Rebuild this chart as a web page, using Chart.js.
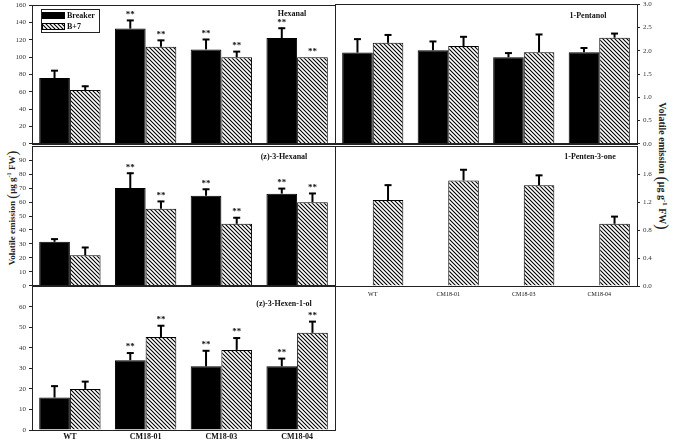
<!DOCTYPE html>
<html><head><meta charset="utf-8">
<script src="https://cdn.jsdelivr.net/npm/chart.js@4.4.0/dist/chart.umd.min.js"></script>
<style>
html,body{margin:0;padding:0;background:#fff;}
#wrap{position:relative;width:675px;height:441px;overflow:hidden;background:#fff;}
canvas{position:absolute;}
.yt{position:absolute;font-family:"Liberation Serif",serif;font-weight:bold;color:#222;white-space:nowrap;}
.yt sup{font-size:70%;}
.yt .p{font-size:160%;font-weight:normal;vertical-align:-2px;}
</style></head>
<body><div id="wrap">
<div class="yt" id="ytl" style="font-size:9px;left:12px;top:208px;transform:translate(-50%,-50%) rotate(-90deg);">Volatile emission <span class="p">(</span>μg g<sup>-1</sup> FW<span class="p">)</span></div>
<div class="yt" id="ytr" style="font-size:10px;left:662px;top:166px;transform:translate(-50%,-50%) rotate(90deg);">Volatile emission <span class="p">(</span>μg g<sup>-1</sup> FW<span class="p">)</span></div>
</div>
<script>
// ---------- data ----------
const categories = ['WT', 'CM18-01', 'CM18-03', 'CM18-04'];
const seriesNames = ['Breaker', 'B+7'];

const hexanalBreaker   = [76, 133, 109, 122];
const hexanalBreakerSD = [9, 10, 12, 12];
const hexanalB7        = [62, 112, 100, 100];
const hexanalB7SD      = [5, 8, 7, 0];
const hexanalStars     = [false, true, true, true];
const hexanalTicks     = [0, 20, 40, 60, 80, 100, 120, 140, 160];

const pentanolBreaker   = [1.96, 2.01, 1.86, 1.97];
const pentanolBreakerSD = [0.30, 0.20, 0.10, 0.10];
const pentanolB7        = [2.17, 2.10, 1.97, 2.28];
const pentanolB7SD      = [0.18, 0.21, 0.39, 0.10];
const pentanolStars     = [false, false, false, false];
const pentanolTicks     = [0, 0.5, 1.0, 1.5, 2.0, 2.5, 3.0];

const hexenalBreaker   = [31.5, 70, 64.5, 66];
const hexenalBreakerSD = [2.3, 11, 5, 4];
const hexenalB7        = [21.8, 55.2, 44.4, 59.9];
const hexenalB7SD      = [6, 5.6, 4.7, 6.6];
const hexenalStars     = [false, true, true, true];
const hexenalTicks     = [0, 10, 20, 30, 40, 50, 60, 70, 80, 90];

const pentenoneBreaker   = [null, null, null, null];
const pentenoneBreakerSD = [null, null, null, null];
const pentenoneB7        = [1.23, 1.51, 1.44, 0.89];
const pentenoneB7SD      = [0.22, 0.16, 0.15, 0.11];
const pentenoneStars     = [false, false, false, false];
const pentenoneTicks     = [0, 0.4, 0.8, 1.2, 1.6];

const hexenolBreaker   = [15.8, 34, 31, 31];
const hexenolBreakerSD = [5.8, 3.7, 7.8, 4];
const hexenolB7        = [20, 45.3, 39, 47.3];
const hexenolB7SD      = [3.8, 5.7, 6, 5.7];
const hexenolStars     = [false, true, true, true];
const hexenolTicks     = [0, 10, 20, 30, 40, 50, 60];

// ---------- helpers ----------
const SERIF = '"Liberation Serif", "Times New Roman", serif';
function makeHatch() {
  const c = document.createElement('canvas');
  c.width = 4; c.height = 4;
  const g = c.getContext('2d');
  g.fillStyle = '#fff'; g.fillRect(0, 0, 4, 4);
  g.strokeStyle = '#000'; g.lineWidth = 1.1;
  g.beginPath();
  g.moveTo(-1, -1); g.lineTo(5, 5);
  g.moveTo(-1, 3); g.lineTo(1, 5);
  g.moveTo(3, -1); g.lineTo(5, 1);
  g.stroke();
  return g.createPattern(c, 'repeat');
}
const hatch = makeHatch();

const framePlugin = {
  id: 'frame',
  afterDraw(chart) {
    const a = chart.chartArea, ctx = chart.ctx;
    ctx.save(); ctx.strokeStyle = '#222'; ctx.lineWidth = 1;
    ctx.strokeRect(Math.round(a.left) + 0.5, Math.round(a.top) + 0.5, Math.round(a.right - a.left), Math.round(a.bottom - a.top));
    ctx.restore();
  }
};

const errPlugin = {
  id: 'errbars',
  afterDatasetsDraw(chart, args, opts) {
    const ctx = chart.ctx, ys = chart.scales.y;
    ctx.save();
    chart.data.datasets.forEach((ds, i) => {
      const meta = chart.getDatasetMeta(i);
      meta.data.forEach((el, j) => {
        const v = ds.data[j];
        if (v === null || v === undefined) return;
        const sd = ds.sd[j] || 0;
        const yTop = ys.getPixelForValue(v + sd);
        const x = el.x;
        if (sd > 0) {
          ctx.strokeStyle = '#000'; ctx.lineWidth = 2;
          ctx.beginPath(); ctx.moveTo(x, el.y); ctx.lineTo(x, yTop); ctx.stroke();
          ctx.beginPath(); ctx.moveTo(x - 3.5, yTop + 0.5); ctx.lineTo(x + 3.5, yTop + 0.5); ctx.stroke();
        }
        if (ds.stars && ds.stars[j]) {
          ctx.fillStyle = '#111'; ctx.font = 'bold 9px ' + SERIF;
          ctx.textAlign = 'center'; ctx.textBaseline = 'bottom';
          ctx.fillText('**', x, yTop - 1);
        }
      });
    });
    ctx.restore();
  }
};

const titlePlugin = {
  id: 'ptitle',
  afterDraw(chart, args, opts) {
    if (!opts || !opts.text) return;
    const a = chart.chartArea, ctx = chart.ctx;
    ctx.save(); ctx.fillStyle = '#111'; ctx.font = 'bold 8px ' + SERIF;
    ctx.textAlign = 'center'; ctx.textBaseline = 'middle';
    ctx.fillText(opts.text, a.right - opts.dx, a.top + opts.dy);
    ctx.restore();
  }
};

const legendPlugin = {
  id: 'boxlegend',
  afterDraw(chart, args, opts) {
    if (!opts || !opts.show) return;
    const a = chart.chartArea, ctx = chart.ctx;
    const x0 = Math.round(a.left) + 9, y0 = Math.round(a.top) + 4;
    ctx.save();
    ctx.strokeStyle = '#222'; ctx.lineWidth = 1;
    ctx.strokeRect(x0 + 0.5, y0 + 0.5, 58, 23);
    chart.data.datasets.forEach((ds, i) => {
      const sy = y0 + 3 + i * 11;
      ctx.fillStyle = ds.backgroundColor;
      ctx.fillRect(x0 + 1, sy, 23, 7);
      ctx.strokeStyle = '#000';
      ctx.strokeRect(x0 + 1.5, sy + 0.5, 22, 6);
      ctx.fillStyle = '#111'; ctx.font = 'bold 8px ' + SERIF;
      ctx.textAlign = 'left'; ctx.textBaseline = 'middle';
      ctx.fillText(ds.label, x0 + 26, sy + 3.5);
    });
    ctx.restore();
  }
};

function fmt(dec) { return v => dec ? Number(v).toFixed(dec) : String(v); }

function makePanel(cfg) {
  const cv = document.createElement('canvas');
  cv.width = cfg.w; cv.height = cfg.h;
  cv.style.left = cfg.left + 'px'; cv.style.top = cfg.top + 'px';
  cv.style.width = cfg.w + 'px'; cv.style.height = cfg.h + 'px';
  document.getElementById('wrap').appendChild(cv);
  new Chart(cv, {
    type: 'bar',
    data: {
      labels: categories,
      datasets: [
        { label: seriesNames[0], data: cfg.d1, sd: cfg.s1, stars: cfg.stars, backgroundColor: '#000', borderColor: '#000', borderWidth: 1 },
        { label: seriesNames[1], data: cfg.d2, sd: cfg.s2, stars: cfg.stars, backgroundColor: hatch, borderColor: '#000', borderWidth: 1 }
      ]
    },
    options: {
      responsive: false, animation: false, devicePixelRatio: 1,
      layout: { padding: cfg.pad },
      datasets: { bar: { categoryPercentage: 0.81, barPercentage: 1.0 } },
      plugins: {
        legend: { display: false }, tooltip: { enabled: false },
        ptitle: cfg.title, boxlegend: { show: !!cfg.legend }
      },
      scales: {
        x: {
          offset: true,
          grid: { display: false, drawTicks: false, tickLength: 0 },
          border: { display: true, color: '#222' },
          ticks: { display: !!cfg.xLabels, font: cfg.xFont, color: '#111', padding: cfg.xPad || 2, maxRotation: 0 },
          afterFit: s => { s.height = cfg.xh; }
        },
        y: {
          position: cfg.right ? 'right' : 'left',
          min: 0, max: cfg.max,
          afterBuildTicks: s => { s.ticks = cfg.ticks.map(v => ({ value: v })); },
          ticks: { callback: fmt(cfg.dec), font: { family: SERIF, size: 7 }, color: '#333', padding: 3 },
          grid: { display: true, drawOnChartArea: false, drawTicks: true, tickLength: 3, color: '#222' },
          border: { display: true, color: '#222' },
          afterFit: s => { s.width = cfg.yw; }
        }
      }
    },
    plugins: [framePlugin, errPlugin, titlePlugin, legendPlugin]
  });
}

// Hexanal (top-left)
makePanel({ left: 0, top: -2, w: 337, h: 153, yw: 32, xh: 0, pad: { top: 6, bottom: 6, left: 0, right: 2 },
  d1: hexanalBreaker, s1: hexanalBreakerSD, d2: hexanalB7, s2: hexanalB7SD, stars: hexanalStars,
  max: 160, ticks: hexanalTicks, dec: 0, title: { text: 'Hexanal', dx: 43, dy: 9 }, legend: true });
// 1-Pentanol (top-right)
makePanel({ left: 333, top: -3, w: 342, h: 154, yw: 38, xh: 0, pad: { top: 6, bottom: 6, left: 2, right: 0 },
  d1: pentanolBreaker, s1: pentanolBreakerSD, d2: pentanolB7, s2: pentanolB7SD, stars: pentanolStars,
  max: 3.0, ticks: pentanolTicks, dec: 1, right: true, title: { text: '1-Pentanol', dx: 49, dy: 12 } });
// (z)-3-Hexanal (middle-left)
makePanel({ left: 0, top: 139, w: 337, h: 154, yw: 32, xh: 0, pad: { top: 6, bottom: 6, left: 0, right: 2 },
  d1: hexenalBreaker, s1: hexenalBreakerSD, d2: hexenalB7, s2: hexenalB7SD, stars: hexenalStars,
  max: 100, ticks: hexenalTicks, dec: 0, title: { text: '(z)-3-Hexanal', dx: 51, dy: 11 } });
// 1-Penten-3-one (middle-right)
makePanel({ left: 333, top: 139, w: 342, h: 161, yw: 38, xh: 14, xPad: 5, pad: { top: 6, bottom: 0, left: 2, right: 0 },
  d1: pentenoneBreaker, s1: pentenoneBreakerSD, d2: pentenoneB7, s2: pentenoneB7SD, stars: pentenoneStars,
  max: 2.0, ticks: pentenoneTicks, dec: 1, right: true, xLabels: true, xFont: { family: SERIF, size: 6 },
  title: { text: '1-Penten-3-one', dx: 47, dy: 11 } });
// (z)-3-Hexen-1-ol (bottom-left)
makePanel({ left: 0, top: 279, w: 337, h: 165, yw: 32, xh: 14, pad: { top: 6, bottom: 0, left: 0, right: 2 },
  d1: hexenolBreaker, s1: hexenolBreakerSD, d2: hexenolB7, s2: hexenolB7SD, stars: hexenolStars,
  max: 70, ticks: hexenolTicks, dec: 0, xLabels: true, xFont: { family: SERIF, size: 8, weight: 'bold' },
  title: { text: '(z)-3-Hexen-1-ol', dx: 51, dy: 18 } });
</script>
</body></html>
